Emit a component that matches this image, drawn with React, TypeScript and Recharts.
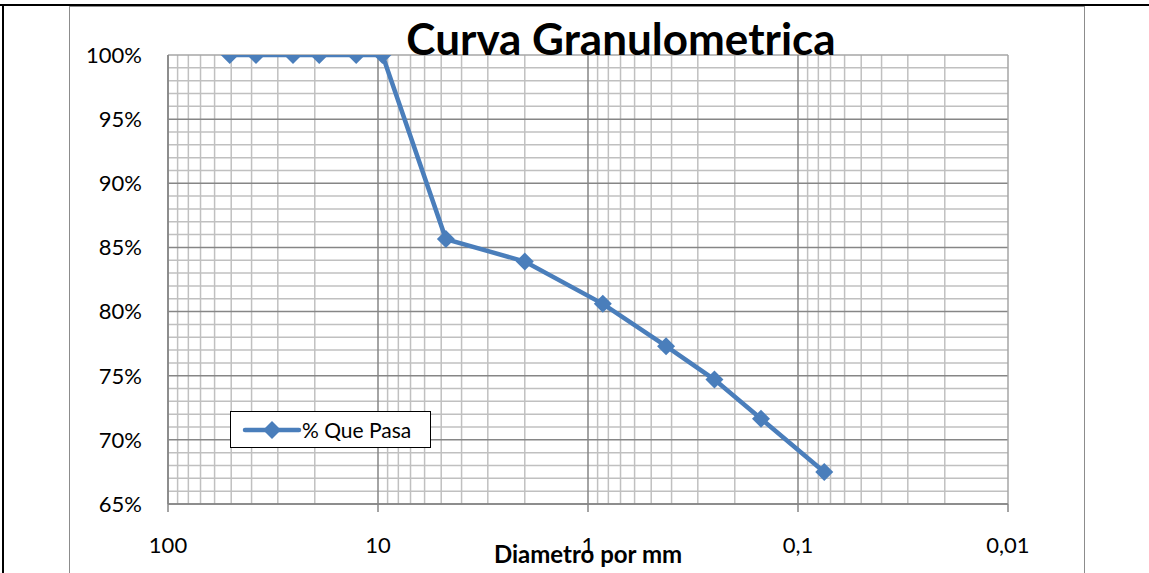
import {
  LineChart,
  Line,
  XAxis,
  YAxis,
  ReferenceLine,
} from "recharts";

// sieve openings (mm) and % passing
const diameters = [50.8, 38.1, 25.4, 19.05, 12.7, 9.525, 4.75, 2.0, 0.85, 0.425, 0.25, 0.15, 0.075];
const passing = [100, 100, 100, 100, 100, 100, 85.65, 83.9, 80.6, 77.3, 74.7, 71.65, 67.5];

const xTicks = [100, 10, 1, 0.1, 0.01];
const yTicks = [65, 70, 75, 80, 85, 90, 95, 100];
const xMinor = [
  90, 80, 70, 60, 50, 40, 30, 20,
  9, 8, 7, 6, 5, 4, 3, 2,
  0.9, 0.8, 0.7, 0.6, 0.5, 0.4, 0.3, 0.2,
  0.09, 0.08, 0.07, 0.06, 0.05, 0.04, 0.03, 0.02,
];
const yMinor = [
  66, 67, 68, 69, 71, 72, 73, 74, 76, 77, 78, 79, 81, 82, 83, 84,
  86, 87, 88, 89, 91, 92, 93, 94, 96, 97, 98, 99,
];

const data = diameters.map((d, i) => ({ d, pct: passing[i] }));

const BLUE = "#4A7EBB";
const MAJOR = "#868686";
const MINOR = "#C0C0C0";
const FONT = "Lato, 'Open Sans', sans-serif";

function Diamond(props: any) {
  const { cx, cy } = props;
  if (cx == null || cy == null) return null;
  const r = 9;
  return (
    <polygon
      points={`${cx},${cy - r} ${cx + r},${cy} ${cx},${cy + r} ${cx - r},${cy}`}
      fill={BLUE}
    />
  );
}

function LegendBox() {
  return (
    <div
      style={{
        position: "absolute",
        left: 230,
        top: 411,
        width: 201,
        height: 37,
        border: "1px solid #000",
        boxSizing: "border-box",
        background: "#fff",
        display: "flex",
        alignItems: "center",
        fontFamily: FONT,
        fontSize: 21,
        color: "#000",
        whiteSpace: "nowrap",
      }}
    >
      <svg width={70} height={20} style={{ marginLeft: 1, flex: "none" }}>
        <line x1={13} y1={10} x2={67} y2={10} stroke={BLUE} strokeWidth={4.5} strokeLinecap="round" />
        <polygon points="40,1 49,10 40,19 31,10" fill={BLUE} />
      </svg>
      <span>% Que Pasa</span>
    </div>
  );
}

export default function App() {
  return (
    <div
      style={{
        position: "absolute",
        left: 0,
        top: 0,
        width: 1149,
        height: 573,
        background: "#fff",
        overflow: "hidden",
      }}
    >
      {/* page borders */}
      <div style={{ position: "absolute", left: 0, top: 4, width: 1149, height: 2, background: "#000" }} />
      <div style={{ position: "absolute", left: 2, top: 4, width: 2, height: 569, background: "#000" }} />
      {/* chart frame */}
      <div
        style={{
          position: "absolute",
          left: 69,
          top: 6,
          width: 1016,
          height: 580,
          border: "1px solid #8C8C8C",
          boxSizing: "border-box",
        }}
      />
      <div style={{ position: "absolute", left: 0, top: 0 }}>
        <LineChart
          width={1149}
          height={573}
          data={data}
          margin={{ top: 55, right: 141, bottom: 29, left: 108 }}
        >
          {xMinor.map((v) => (
            <ReferenceLine key={"xm" + v} x={v} stroke={MINOR} strokeWidth={1.5} />
          ))}
          {yMinor.map((v) => (
            <ReferenceLine key={"ym" + v} y={v} stroke={MINOR} strokeWidth={1.5} />
          ))}
          {yTicks.map((v) => (
            <ReferenceLine key={"yM" + v} y={v} stroke={v === 100 ? "#A6A6A6" : MAJOR} strokeWidth={1.5} />
          ))}
          {xTicks.map((v) => (
            <ReferenceLine key={"xM" + v} x={v} stroke={v === 0.01 ? "#A6A6A6" : MAJOR} strokeWidth={1.5} />
          ))}
          <XAxis
            dataKey="d"
            type="number"
            scale="log"
            domain={[0.01, 100]}
            reversed
            ticks={xTicks}
            allowDataOverflow
            height={40}
            tickFormatter={(v: number) => String(v).replace(".", ",")}
            stroke={MAJOR}
            strokeWidth={1.5}
            tickSize={8}
            tickMargin={25}
            tick={{ fill: "#000", fontSize: 22, fontFamily: FONT }}
            interval={0}
          />
          <YAxis
            type="number"
            domain={[65, 100]}
            ticks={yTicks}
            width={60}
            allowDataOverflow
            tickFormatter={(v: number) => `${v}%`}
            stroke={MAJOR}
            strokeWidth={1.5}
            tickLine={false}
            tickSize={0}
            tickMargin={26}
            tick={{ fill: "#000", fontSize: 22, fontFamily: FONT }}
            interval={0}
          />
          <Line
            type="linear"
            dataKey="pct"
            name="% Que Pasa"
            stroke={BLUE}
            strokeWidth={4.5}
            dot={<Diamond />}
            activeDot={false}
            isAnimationActive={false}
          />
        </LineChart>
      </div>
      <LegendBox />
      <div
        style={{
          position: "absolute",
          left: 621,
          top: 12,
          transform: "translateX(-50%)",
          fontFamily: FONT,
          fontWeight: 700,
          fontSize: 44,
          lineHeight: "52px",
          whiteSpace: "nowrap",
          color: "#000",
        }}
      >
        Curva Granulometrica
      </div>
      <div
        style={{
          position: "absolute",
          left: 588,
          top: 538,
          transform: "translateX(-50%)",
          fontFamily: FONT,
          fontWeight: 700,
          fontSize: 24,
          lineHeight: "32px",
          whiteSpace: "nowrap",
          color: "#000",
        }}
      >
        Diametro por mm
      </div>
    </div>
  );
}
